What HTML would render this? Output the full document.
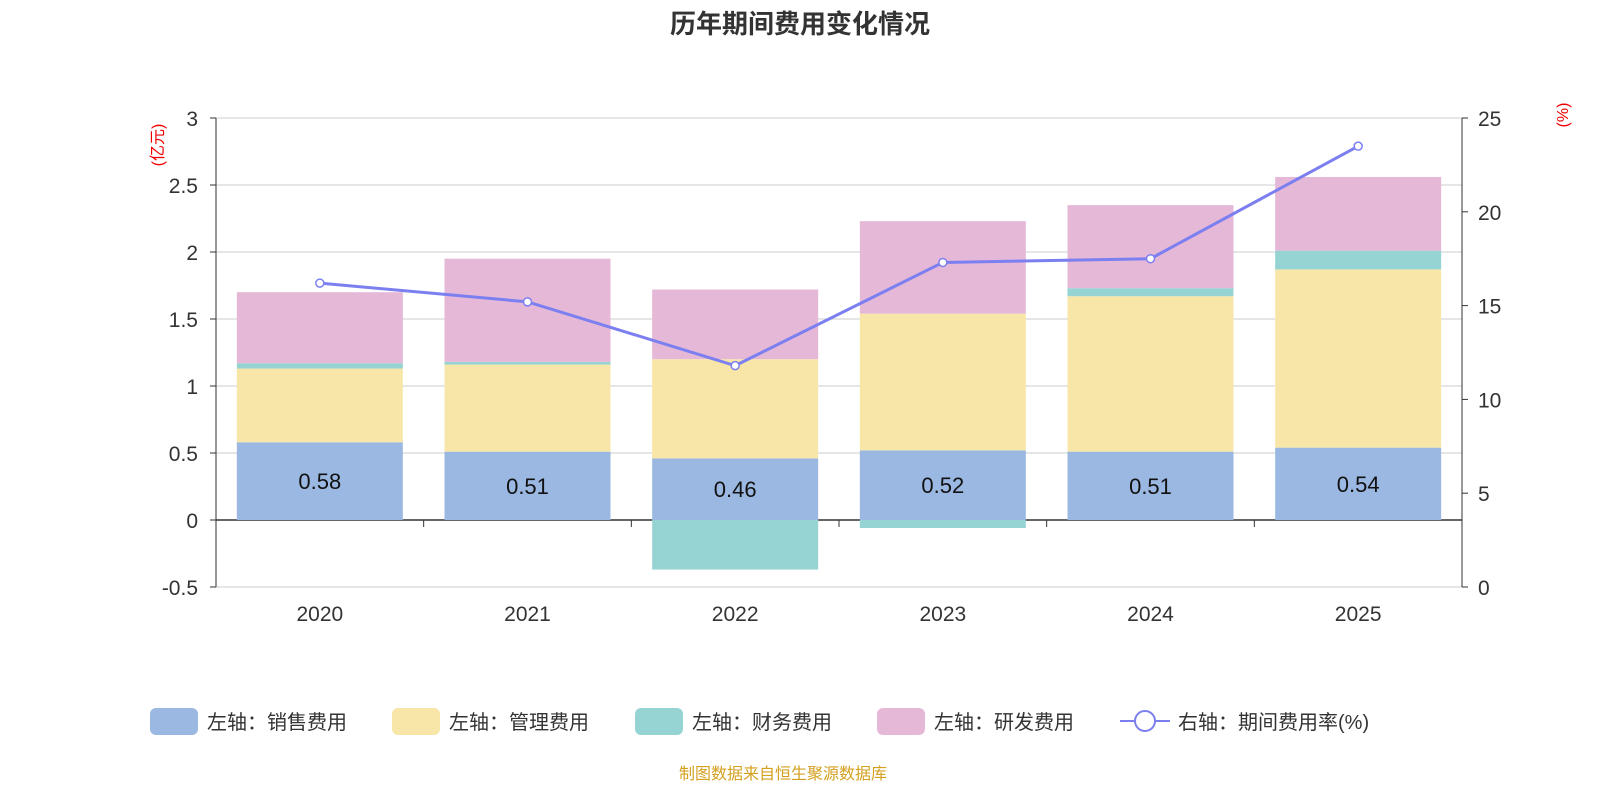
<!DOCTYPE html>
<html><head><meta charset="utf-8">
<style>
body{margin:0;background:#fff;font-family:"Liberation Sans","Noto Sans CJK SC",sans-serif;}
svg text{font-family:"Liberation Sans","Noto Sans CJK SC",sans-serif;}
</style></head>
<body>
<svg id="chart" width="1600" height="800" viewBox="0 0 1600 800" xmlns="http://www.w3.org/2000/svg">
<text x="800" y="33" text-anchor="middle" font-size="26" font-weight="bold" fill="#333">历年期间费用变化情况</text>
<text transform="translate(163,145) rotate(-90)" text-anchor="middle" font-size="16" fill="#e00">(亿元)</text>
<text transform="translate(1568,115) rotate(-90)" text-anchor="middle" font-size="16" fill="#e00">(%)</text>
<g id="grid"></g><g id="bars"></g><g id="axes"></g><g id="line"></g>
<g font-size="20" fill="#333">
<g><rect x="150" y="708" width="48" height="27" rx="6" fill="#9bb8e2"/><text x="207" y="729">左轴：销售费用</text></g>
<g><rect x="392" y="708" width="48" height="27" rx="6" fill="#f8e6a8"/><text x="449" y="729">左轴：管理费用</text></g>
<g><rect x="635" y="708" width="48" height="27" rx="6" fill="#96d3d3"/><text x="692" y="729">左轴：财务费用</text></g>
<g><rect x="877" y="708" width="48" height="27" rx="6" fill="#e6b8d8"/><text x="934" y="729">左轴：研发费用</text></g>
<g><line x1="1120" y1="721" x2="1170" y2="721" stroke="#7b7ff0" stroke-width="2"/><circle cx="1145" cy="721" r="10" fill="#fff" stroke="#7b7ff0" stroke-width="2"/><text x="1178" y="729">右轴：期间费用率(%)</text></g>
</g>
<text x="783" y="779" text-anchor="middle" font-size="16" fill="#d4a020">制图数据来自恒生聚源数据库</text>
</svg>
<script>
const categories=["2020","2021","2022","2023","2024","2025"];
const sales=[0.58,0.51,0.46,0.52,0.51,0.54];
const admin=[0.55,0.65,0.74,1.02,1.16,1.33];
const finance=[0.04,0.02,-0.37,-0.06,0.06,0.14];
const rnd=[0.53,0.77,0.52,0.69,0.62,0.55];
const rate=[16.2,15.2,11.8,17.3,17.5,23.5];
const leftTicks=[-0.5,0,0.5,1,1.5,2,2.5,3];
const rightTicks=[0,5,10,15,20,25];
const NS="http://www.w3.org/2000/svg";
const x0=216,x1=1462,bw=166;
const yL=v=>520-v*134;
const yR=v=>587-v*(469/25);
const step=(x1-x0)/categories.length;
const xc=i=>x0+step*(i+0.5);
function mk(tag,attrs,parent){const e=document.createElementNS(NS,tag);for(const k in attrs)e.setAttribute(k,attrs[k]);parent.appendChild(e);return e;}
const grid=document.getElementById('grid'),bars=document.getElementById('bars'),axes=document.getElementById('axes'),lineG=document.getElementById('line');
leftTicks.forEach(t=>{
 const g=mk('line',{x1:x0,x2:x1,y1:yL(t),y2:yL(t),stroke:t===0?'#333':'#ccc','stroke-width':t===0?1.5:1},grid);
 
 
 const tx=mk('text',{x:x0-18,y:yL(t)+8,'text-anchor':'end','font-size':21,fill:'#333'},axes);
 tx.textContent=String(t);
 
 
 mk('line',{x1:x0-6,x2:x0,y1:yL(t),y2:yL(t),stroke:'#333'},axes);
});
rightTicks.forEach(t=>{
 const tx=mk('text',{x:x1+16,y:yR(t)+8,'font-size':21,fill:'#333'},axes);
 tx.textContent=String(t);
 
 
 mk('line',{x1:x1,x2:x1+6,y1:yR(t),y2:yR(t),stroke:'#333'},axes);
});
mk('line',{x1:x0,x2:x0,y1:yL(3),y2:yL(-0.5),stroke:'#333'},axes);
mk('line',{x1:x1,x2:x1,y1:yR(25),y2:yR(0),stroke:'#333'},axes);
for(let i=0;i<=categories.length;i++)mk('line',{x1:x0+step*i,x2:x0+step*i,y1:520,y2:527,stroke:'#333'},axes);
const series=[[sales,'#9bb8e2','bar-sales'],[admin,'#f8e6a8','bar-admin'],[finance,'#96d3d3','bar-finance'],[rnd,'#e6b8d8','bar-rnd']];
categories.forEach((c,i)=>{
 let pos=0,neg=0;
 series.forEach(([arr,col,nm])=>{
  const v=arr[i];let a,b;
  if(v>=0){a=pos;b=pos+v;pos=b;}else{a=neg;b=neg+v;neg=b;}
  const r=mk('rect',{x:xc(i)-bw/2,y:Math.min(yL(a),yL(b)),width:bw,height:Math.abs(yL(a)-yL(b)),fill:col},bars);
  
  
 });
 const lb=mk('text',{x:xc(i),y:yL(sales[i]/2)+8,'text-anchor':'middle','font-size':22,fill:'#111'},bars);
 lb.textContent=sales[i].toFixed(2);
 
 
 const xl=mk('text',{x:xc(i),y:621,'text-anchor':'middle','font-size':21,fill:'#333'},axes);
 xl.textContent=c;
 
 
});
const pl=mk('polyline',{points:rate.map((v,i)=>xc(i)+','+yR(v)).join(' '),fill:'none',stroke:'#7b7ff0','stroke-width':3},lineG);


rate.forEach((v,i)=>{
 const p=mk('circle',{cx:xc(i),cy:yR(v),r:4,fill:'#fff',stroke:'#7b7ff0','stroke-width':1.5},lineG);
 
 
});
</script>
</body></html>
